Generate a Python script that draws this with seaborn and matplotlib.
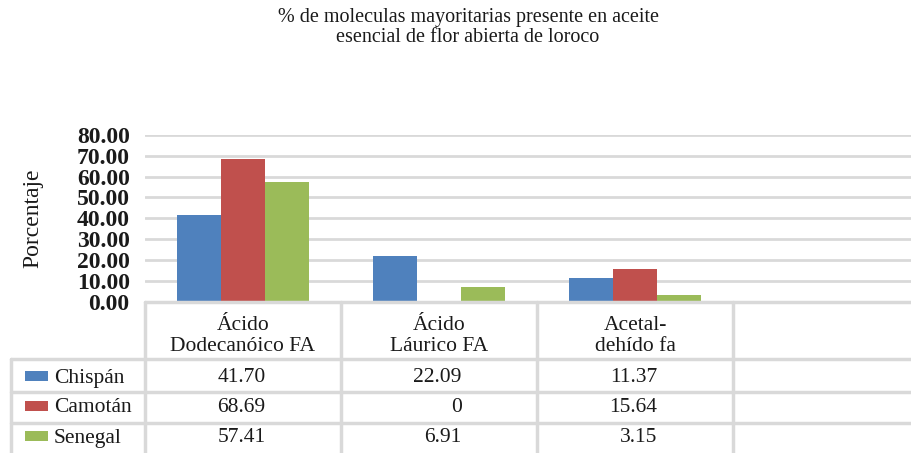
import matplotlib
matplotlib.use("Agg")
import matplotlib.pyplot as plt
import matplotlib.transforms as mtrans
from matplotlib.lines import Line2D
from matplotlib.patches import Rectangle
import seaborn as sns
import pandas as pd

categories = ["Ácido\nDodecanóico FA", "Ácido\nLáurico FA", "Acetal-\ndehído fa"]
series = ["Chispán", "Camotán", "Senegal"]
chispan = [41.70, 22.09, 11.37]
camotan = [68.69, 0, 15.64]
senegal = [57.41, 6.91, 3.15]
table_text = {
    "Chispán": ["41.70", "22.09", "11.37"],
    "Camotán": ["68.69", "0", "15.64"],
    "Senegal": ["57.41", "6.91", "3.15"],
}
colors = ["#4F81BD", "#C0504D", "#9BBB59"]
yticks = [0, 10, 20, 30, 40, 50, 60, 70, 80]

rows = []
for s, vals in zip(series, [chispan, camotan, senegal]):
    for c, v in zip(categories, vals):
        rows.append({"cat": c, "serie": s, "val": v})
df = pd.DataFrame(rows)

sns.set_theme(style="white")
plt.rcParams["font.family"] = ["Liberation Serif", "DejaVu Serif"]
TXT = "#1a1a1a"
GRID = "#D9D9D9"

W, H = 912, 453
fig = plt.figure(figsize=(W / 100, H / 100), dpi=100)
y0, y80 = 301.5, 135.0
ax = fig.add_axes([145 / W, (H - y0) / H, 784 / W, (y0 - y80) / H])

sns.barplot(data=df, x="cat", y="val", hue="serie", order=categories,
            hue_order=series, palette=colors, width=0.67, saturation=1,
            linewidth=0, ax=ax, legend=False, zorder=3)
ax.set_xlim(-0.5, 3.5)
ax.set_ylim(0, 80)
ax.set_yticks(yticks)
ax.set_yticklabels([f"{t:.2f}" for t in yticks], fontsize=17, fontweight="bold", color=TXT)
ax.tick_params(axis="y", length=0, pad=11)
ax.set_xticks([])
ax.set_xlabel("")
ax.set_ylabel("")
for sp in ax.spines.values():
    sp.set_visible(False)
for t in yticks[1:]:
    ax.axhline(t, color=GRID, lw=2, zorder=1)

fig.text(33 / W, 1 - 218 / H, "Porcentaje", rotation=90, ha="center", va="center",
         fontsize=17, color=TXT)
fig.text(468 / W, 1 - 8 / H, "% de moleculas mayoritarias presente en aceite\nesencial de flor abierta de loroco",
         ha="center", va="top", fontsize=14.5, color=TXT, linespacing=1.05)

# data table below the axis
blend = mtrans.blended_transform_factory(ax.transData, fig.transFigure)
def fy(p):
    return 1 - p / H

top, hdr, r1, r2 = 302.3, 359.0, 391.5, 423.3
fig.add_artist(Line2D([145 / W, 1.0], [fy(top), fy(top)], color=GRID, lw=2.5, transform=fig.transFigure))
for yy in [hdr, r1, r2]:
    fig.add_artist(Line2D([11 / W, 1.0], [fy(yy), fy(yy)], color=GRID, lw=2.5, transform=fig.transFigure))
for xd in [-0.5, 0.5, 1.5, 2.5]:
    fig.add_artist(Line2D([xd, xd], [fy(top), 0], color=GRID, lw=2.5, transform=blend))
fig.add_artist(Line2D([11 / W, 11 / W], [fy(hdr), 0], color=GRID, lw=2.5, transform=fig.transFigure))

for i, c in enumerate(categories):
    fig.text(i, fy(336), c, transform=blend, ha="center", va="center",
             fontsize=15.5, color=TXT, linespacing=1.1)

row_centers = [376, 406, 436]
for s, col, yc in zip(series, colors, row_centers):
    fig.add_artist(Rectangle((25 / W, fy(yc + 5)), 23 / W, 10 / H, facecolor=col,
                             edgecolor="none", transform=fig.transFigure))
    fig.text(54 / W, fy(yc + 2), s, ha="left", va="center", fontsize=15.5, color=TXT)
    for i, txt in enumerate(table_text[s]):
        fig.text(i + 0.115, fy(yc + 2), txt, transform=blend, ha="right", va="center",
                 fontsize=15.5, color=TXT)

fig.savefig("out.png", dpi=100)
